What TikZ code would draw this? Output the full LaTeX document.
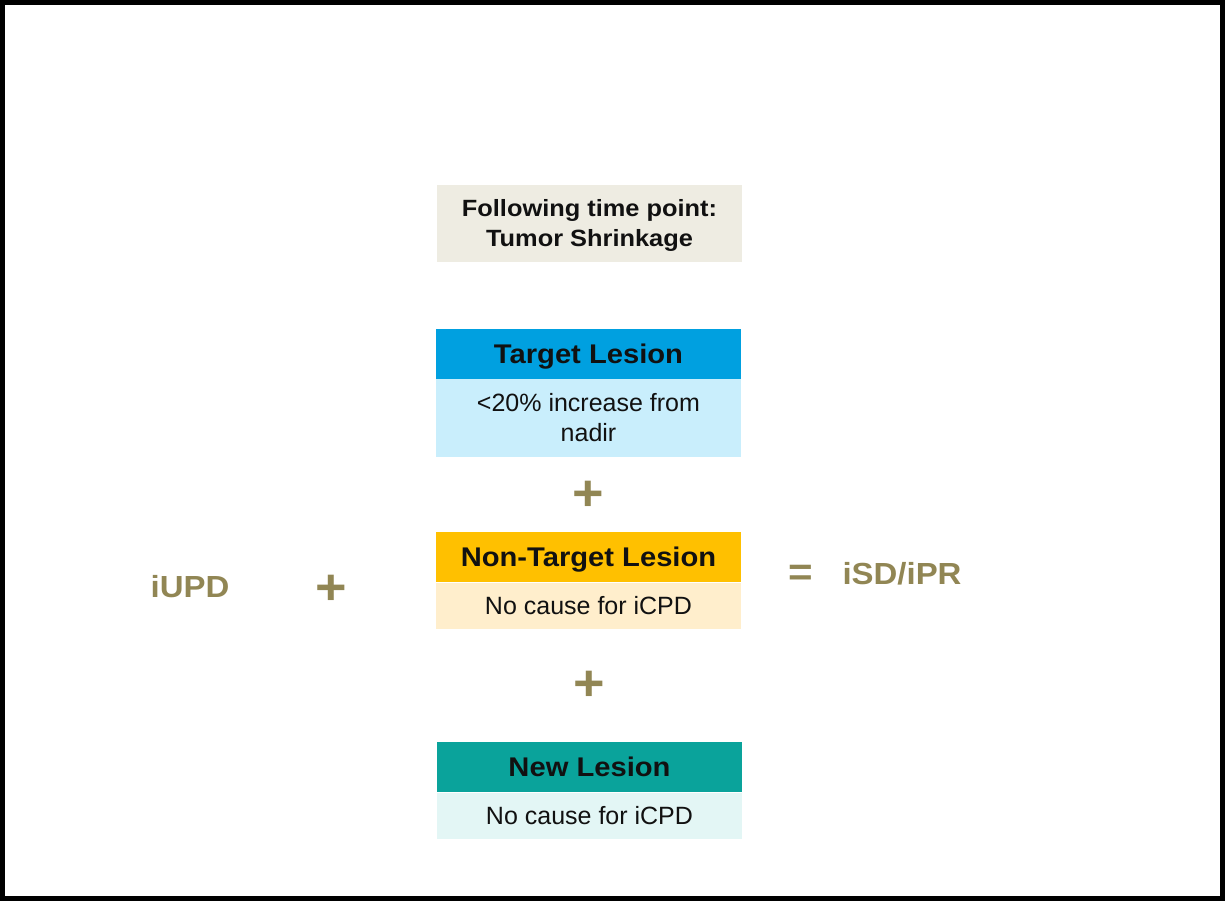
\documentclass[tikz,border=0pt]{standalone}
\usepackage{fontspec}
\setmainfont{Liberation Sans}
\newfontfamily\wideb[FakeStretch=1.08]{Liberation Sans Bold}
\definecolor{olive}{RGB}{145,134,84}
\definecolor{beige}{RGB}{238,236,226}
\definecolor{tblue}{RGB}{0,160,224}
\definecolor{tbluel}{RGB}{201,238,252}
\definecolor{ngold}{RGB}{255,192,0}
\definecolor{ngoldl}{RGB}{255,238,204}
\definecolor{nteal}{RGB}{10,163,155}
\definecolor{nteall}{RGB}{227,246,245}
\definecolor{txt}{RGB}{17,17,17}
\begin{document}
\begin{tikzpicture}[x=1pt,y=-1pt,
  box/.style={rectangle,inner sep=0pt,minimum width=305pt,text=txt,align=center},
  head/.style={box,text height=19.3pt,text depth=0pt,minimum height=50pt,font=\fontsize{27pt}{29pt}\wideb},
  body/.style={box,font=\fontsize{25pt}{30pt}\selectfont},
  bodyone/.style={body,text height=17.9pt,text depth=0pt},
  bodytwo/.style={body,text height=47.9pt,text depth=0pt},
  sym/.style={inner sep=0pt,text=olive},
  plus/.style={sym,font=\fontsize{50pt}{50pt}\wideb},
  word/.style={sym,text height=21.8pt,text depth=0pt,font=\fontsize{30.5pt}{31pt}\wideb},
]
\useasboundingbox (0,0) rectangle (1225,901);
\draw[line width=5pt] (2.5,2.5) rectangle (1222.5,898.5);

\node[box,text height=46.8pt,text depth=0pt,fill=beige,minimum height=77pt,font=\fontsize{23.5pt}{30pt}\wideb] (follow) at (589.5,223.5) {Following time point:\\Tumor Shrinkage};

\node[head,fill=tblue] (th) at (588.5,354) {Target Lesion};
\node[bodytwo,fill=tbluel,minimum height=78pt] (tb) at (588.5,418) {<20\% increase from\\nadir};

\node[plus] (p1) at (588,496) {+};

\node[head,fill=ngold] (nh) at (588.5,557) {Non-Target Lesion};
\node[bodyone,fill=ngoldl,minimum height=46pt] (nb) at (588.5,605.5) {No cause for iCPD};

\node[plus] (p2) at (589,686) {+};

\node[head,fill=nteal] (wh) at (589.5,767) {New Lesion};
\node[bodyone,fill=nteall,minimum height=46pt] (wb) at (589.5,815.5) {No cause for iCPD};

\node[word] (iupd) at (190,587) {iUPD};
\node[plus] (p0) at (331,590) {+};
\node[sym,font=\fontsize{39pt}{39pt}\wideb] (eq) at (801,575) {=};
\node[word] (res) at (902,574) {iSD/iPR};
\end{tikzpicture}
\end{document}
